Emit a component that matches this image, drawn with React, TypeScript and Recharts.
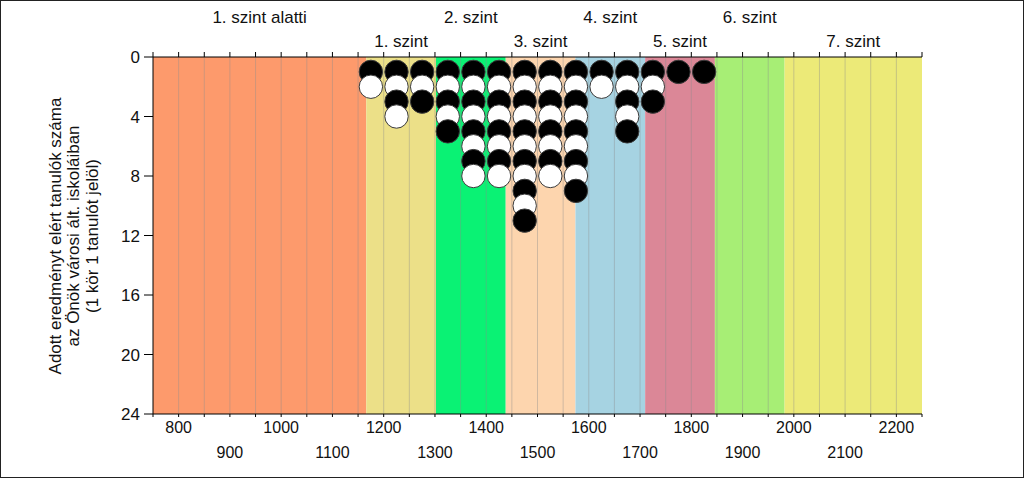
import { ComposedChart, ReferenceArea, ReferenceLine, Scatter, XAxis, YAxis } from "recharts"

// score columns (one column of circles per 50-point bin) and how many students landed there
const scoreColumns = [1175, 1225, 1275, 1325, 1375, 1425, 1475, 1525, 1575, 1625, 1675, 1725, 1775, 1825]
const studentCounts = [2, 4, 3, 5, 8, 8, 11, 8, 9, 2, 5, 3, 1, 1]

const levelNames = [
  "1. szint alatti",
  "1. szint",
  "2. szint",
  "3. szint",
  "4. szint",
  "5. szint",
  "6. szint",
  "7. szint",
]
const levelEdges = [750, 1166, 1302, 1438, 1574, 1710, 1846, 1982, 2250]
const levelColors = ["#fd9a6c", "#ece088", "#0af274", "#fdd5ae", "#a6d3e2", "#db8797", "#a7ee75", "#ecea78"]

const scaleTicks = [
  750, 800, 850, 900, 950, 1000, 1050, 1100, 1150, 1200, 1250, 1300, 1350, 1400, 1450, 1500, 1550, 1600,
  1650, 1700, 1750, 1800, 1850, 1900, 1950, 2000, 2050, 2100, 2150, 2200, 2250,
]
const gridTicks = scaleTicks.slice(1, -1)
const countTicks = [0, 4, 8, 12, 16, 20, 24]

const yTitle = ["Adott eredményt elért tanulók száma", "az Önök városi ált. iskoláiban", "(1 kör 1 tanulót jelöl)"]

const FONT = "Arial, 'Liberation Sans', sans-serif"

const dots: { score: number; count: number; dark: boolean }[] = []
scoreColumns.forEach((score, i) => {
  for (let k = 1; k <= studentCounts[i]; k++) {
    dots.push({ score, count: k, dark: k % 2 === 1 })
  }
})

function BottomTick(props: any) {
  const { x, y, payload } = props
  const v = payload.value
  if (v % 100 !== 0) return <g />
  const lower = (v / 100) % 2 === 1
  return (
    <text x={x} y={y} dy={lower ? 39 : 14} textAnchor="middle" fontSize={16} fill="#111" fontFamily={FONT}>
      {v}
    </text>
  )
}

function NoTick() {
  return <g />
}

function Dot(props: any) {
  const { cx, cy, payload } = props
  return <circle cx={cx} cy={cy} r={11.7} fill={payload.dark ? "#000" : "#fff"} stroke="#3a3a3a" strokeWidth={1} />
}

export default function App() {
  return (
    <div
      style={{
        position: "relative",
        width: 1024,
        height: 478,
        boxSizing: "border-box",
        border: "1px solid #222",
        background: "#fff",
        fontFamily: FONT,
      }}
    >
      <style>{"body{margin:0}"}</style>
      <ComposedChart width={1022} height={476} data={dots} margin={{ top: 0, right: 101, bottom: 0, left: 0 }}>
        <XAxis
          xAxisId="top"
          orientation="top"
          type="number"
          dataKey="score"
          domain={[750, 2250]}
          ticks={scaleTicks}
          height={56}
          interval={0}
          tick={<NoTick />}
          tickSize={5}
          axisLine={{ stroke: "#000" }}
          tickLine={{ stroke: "#000" }}
        />
        <XAxis
          xAxisId="bottom"
          orientation="bottom"
          type="number"
          dataKey="score"
          domain={[750, 2250]}
          ticks={scaleTicks}
          height={63}
          tickSize={3}
          tickMargin={2}
          tick={<BottomTick />}
          axisLine={{ stroke: "#000" }}
          tickLine={{ stroke: "#000" }}
          interval={0}
        />
        <YAxis
          type="number"
          dataKey="count"
          domain={[0, 24]}
          ticks={countTicks}
          reversed
          width={152}
          tickSize={9}
          tickMargin={4}
          interval={0}
          tick={{ fontSize: 17, fill: "#111", fontFamily: FONT }}
          axisLine={{ stroke: "#000" }}
          tickLine={{ stroke: "#000" }}
        />
        {levelNames.map((name, i) => (
          <ReferenceArea
            key={name}
            xAxisId="bottom"
            x1={levelEdges[i]}
            x2={levelEdges[i + 1]}
            fill={levelColors[i]}
            fillOpacity={1}
            stroke="none"
            label={{
              value: name,
              position: "top",
              offset: i % 2 === 0 ? 34 : 10,
              fontSize: 17,
              fill: "#111",
              fontFamily: FONT,
            }}
          />
        ))}
        {gridTicks.map((t) => (
          <ReferenceLine key={t} xAxisId="bottom" x={t} stroke="#8c8c8c" strokeOpacity={0.4} strokeWidth={1} />
        ))}
        <Scatter xAxisId="bottom" data={dots} dataKey="count" shape={<Dot />} isAnimationActive={false} />
      </ComposedChart>
      <svg width={1022} height={476} style={{ position: "absolute", left: 0, top: 0, pointerEvents: "none" }}>
        {yTitle.map((line, i) => (
          <text
            key={line}
            transform={`translate(${54 + i * 18.7}, 235) rotate(-90)`}
            textAnchor="middle"
            dominantBaseline="central"
            fontSize={17}
            fill="#111"
            fontFamily={FONT}
          >
            {line}
          </text>
        ))}
      </svg>
    </div>
  )
}
